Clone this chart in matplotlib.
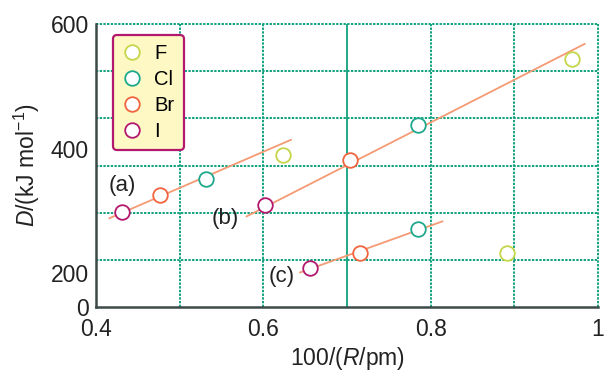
import numpy as np
import matplotlib
matplotlib.use("Agg")
import matplotlib.pyplot as plt
from matplotlib.lines import Line2D

plt.rcParams['font.family'] = ['Liberation Sans', 'DejaVu Sans']
plt.rcParams['mathtext.fontset'] = 'custom'
plt.rcParams['mathtext.rm'] = 'Liberation Sans'
plt.rcParams['mathtext.it'] = 'Liberation Sans:italic'

halogens = ['F', 'Cl', 'Br', 'I']
colors = {'F': '#c5d64a', 'Cl': '#1ea88c', 'Br': '#f0643e', 'I': '#b3186e'}

# 100/(R/pm) and D/(kJ/mol), per series (a), (b), (c)
x_a = [0.623, 0.531, 0.477, 0.431]
d_a = [389, 351, 325, 298]
x_b = [0.969, 0.785, 0.703, 0.602]
d_b = [543, 438, 382, 309]
x_c = [0.891, 0.785, 0.715, 0.656]
d_c = [233, 271, 232, 208]

# fitted lines, end points
line_a = ([0.416, 0.633], [288, 414])
line_b = ([0.580, 0.984], [291, 568])
line_c = ([0.644, 0.814], [201, 283])

series_labels = ['(a)', '(b)', '(c)']
label_pos = [(0.432, 341), (0.554, 288), (0.622, 194)]

y_bottom = 145.5
line_color = '#f59a74'
grid_color = '#0fa27c'

fig = plt.figure(figsize=(6.08, 3.72), dpi=100)
ax = fig.add_axes([96 / 608, 65 / 372, 502 / 608, 283 / 372])

# grid: dotted, except the solid one at 0.7
for gx in np.arange(0.5, 1.01, 0.1):
    if abs(gx - 0.7) < 1e-6:
        ax.axvline(gx, color=grid_color, lw=1.3, zorder=1)
    else:
        ax.axvline(gx, color=grid_color, ls=(0, (1.2, 0.7)), lw=1.4, zorder=1, clip_on=False)
for gy in np.linspace(y_bottom, 600, 7)[1:]:
    ax.axhline(gy, color=grid_color, ls=(0, (1.2, 0.7)), lw=1.4, zorder=1, clip_on=False)

for xs, ys in [line_a, line_b, line_c]:
    ax.plot(xs, ys, color=line_color, lw=1.3, zorder=3)

for xs, ds in [(x_a, d_a), (x_b, d_b), (x_c, d_c)]:
    for h, x, d in zip(halogens, xs, ds):
        ax.plot(x, d, 'o', ms=10.5, mfc='white', mec=colors[h], mew=1.3, zorder=4)

for lab, (x, y) in zip(series_labels, label_pos):
    ax.text(x, y, lab, fontsize=16, color='#222222', ha='center', va='center', zorder=5)

ax.set_xlim(0.4, 1.0)
ax.set_ylim(y_bottom, 600)
ax.set_xticks([0.4, 0.6, 0.8, 1.0])
ax.set_xticklabels(['0.4', '0.6', '0.8', '1'])
ax.set_yticks([y_bottom, 200, 400, 600])
ax.set_yticklabels(['0', '200', '400', '600'])
ax.tick_params(which='both', length=0, labelsize=16.5, colors='#222222')
ax.tick_params(axis='x', pad=8)
ax.tick_params(axis='y', pad=5)

for s in ['top', 'right']:
    ax.spines[s].set_visible(False)
for s in ['left', 'bottom']:
    ax.spines[s].set_color('#3c4a48')
    ax.spines[s].set_linewidth(1.8)
    ax.spines[s].set_zorder(6)

ax.set_xlabel(r'100/($R$/pm)', fontsize=16.5, color='#222222', labelpad=3)
ax.set_ylabel(r'$D$/(kJ mol$^{-1}$)', fontsize=16.5, color='#222222', labelpad=6)

handles = [Line2D([], [], ls='none', marker='o', ms=10.5, mfc='white',
                  mec=colors[h], mew=1.3) for h in halogens]
leg = ax.legend(handles, halogens, loc='upper left', bbox_to_anchor=(0.034, 0.961),
                fontsize=14.5, frameon=True, fancybox=True, labelspacing=0.35,
                handletextpad=0.6, borderpad=0.45, handlelength=1.0,
                borderaxespad=0)
frame = leg.get_frame()
frame.set_facecolor('#fdf8c4')
frame.set_edgecolor('#b3186e')
frame.set_linewidth(1.6)
frame.set_alpha(1)
leg.set_zorder(7)

fig.savefig('out.png', dpi=100)
